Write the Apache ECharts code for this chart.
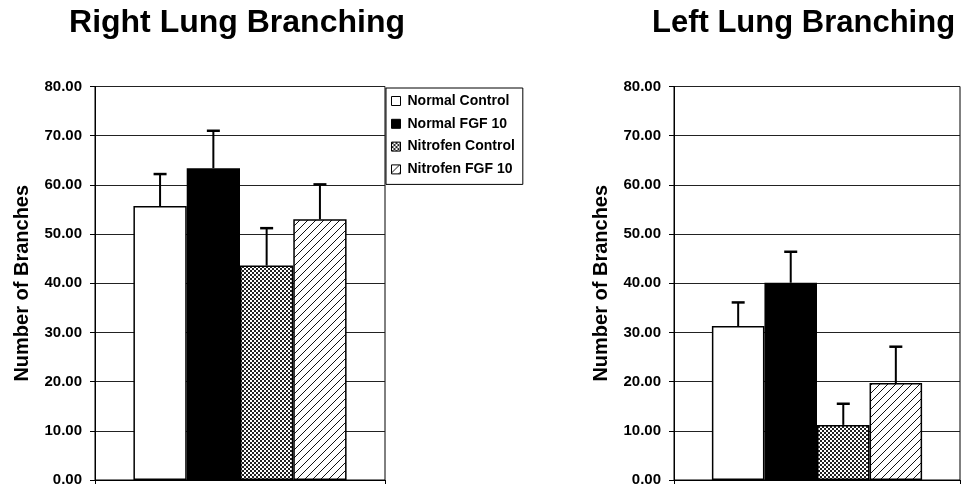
<!DOCTYPE html>
<html>
<head>
<meta charset="utf-8">
<script src="https://cdn.jsdelivr.net/npm/echarts@6/dist/echarts.min.js"></script>
<style>
  html, body { margin: 0; padding: 0; background: #fff; }
  #chart { width: 969px; height: 489px; }
</style>
</head>
<body>
<div id="chart"></div>
<script>
// Treatment groups (one bar each per panel)
const groups = ['Normal Control', 'Normal FGF 10', 'Nitrofen Control', 'Nitrofen FGF 10'];
const panelTitles = ['Right Lung Branching', 'Left Lung Branching'];
const yAxisName = 'Number of Branches';

// Mean branch counts and upper error (SD) per group
const rightLungMean = [55.7, 63.4, 43.6, 53.0];
const rightLungErr  = [6.5, 7.6, 7.6, 7.1];
const leftLungMean  = [31.3, 40.1, 11.2, 19.7];
const leftLungErr   = [4.8, 6.3, 4.3, 7.4];

const FONT = 'Liberation Sans, Arial, Helvetica, sans-serif';
const CATEGORY_GAP = 0.265;

// Diagonal "/" hatch fill
function makeHatch() {
  const s = 8;
  const c = document.createElement('canvas');
  c.width = s; c.height = s;
  const g = c.getContext('2d');
  g.fillStyle = '#fff';
  g.fillRect(0, 0, s, s);
  g.strokeStyle = '#111';
  g.lineWidth = 1;
  g.beginPath();
  g.moveTo(-1, s + 1); g.lineTo(s + 1, -1);
  g.moveTo(-1, 1); g.lineTo(1, -1);
  g.moveTo(s - 1, s + 1); g.lineTo(s + 1, s - 1);
  g.stroke();
  return c;
}

// Fine checkered fill
function makeChecker() {
  const c = document.createElement('canvas');
  c.width = 4; c.height = 4;
  const g = c.getContext('2d');
  g.fillStyle = '#fff';
  g.fillRect(0, 0, 4, 4);
  g.fillStyle = '#222';
  g.fillRect(0, 0, 2, 2);
  g.fillRect(2, 2, 2, 2);
  return c;
}

const fills = [
  '#ffffff',
  '#000000',
  { image: makeChecker(), repeat: 'repeat' },
  { image: makeHatch(), repeat: 'repeat' }
];

const panels = [
  { mean: rightLungMean, err: rightLungErr },
  { mean: leftLungMean, err: leftLungErr }
];

const grids = [
  { left: 95, right: 584, top: 86.5, bottom: 9, show: true, borderColor: '#000', borderWidth: 1 },
  { left: 674, right: 9, top: 86.5, bottom: 9, show: true, borderColor: '#000', borderWidth: 1 }
];

const xAxes = panels.map((p, i) => ({
  gridIndex: i,
  type: 'category',
  data: [''],
  axisLine: { lineStyle: { color: '#000', width: 1 } },
  axisTick: { show: true, length: 4, lineStyle: { color: '#000' } },
  axisLabel: { show: false },
  splitLine: { show: false }
}));

const yAxes = panels.map((p, i) => ({
  gridIndex: i,
  type: 'value',
  min: 0,
  max: 80,
  interval: 10,
  name: yAxisName,
  nameLocation: 'middle',
  nameGap: 63,
  nameTextStyle: { fontSize: 20, fontWeight: 'bold', color: '#000', fontFamily: FONT },
  axisLine: { show: true, lineStyle: { color: '#000', width: 1 } },
  axisTick: { show: true, length: 5, lineStyle: { color: '#000' } },
  axisLabel: {
    formatter: v => v.toFixed(2),
    fontSize: 15, fontWeight: 'bold', color: '#000', fontFamily: FONT, margin: 13
  },
  splitLine: { show: true, lineStyle: { color: '#222', width: 1 } }
}));

const series = [];
panels.forEach((p, pi) => {
  groups.forEach((name, gi) => {
    series.push({
      name: name,
      type: 'bar',
      xAxisIndex: pi,
      yAxisIndex: pi,
      data: [p.mean[gi]],
      barGap: '0%',
      barCategoryGap: (CATEGORY_GAP * 100) + '%',
      itemStyle: { color: fills[gi], borderColor: '#000', borderWidth: 1.5 },
      emphasis: { disabled: true }
    });
  });
  // Upper error bars with caps
  series.push({
    type: 'custom',
    xAxisIndex: pi,
    yAxisIndex: pi,
    z: 5,
    silent: true,
    data: p.mean.map((m, gi) => [0, m, m + p.err[gi], gi]),
    renderItem: (params, api) => {
      const bandW = api.size([1, 0])[0];
      const barW = bandW * (1 - CATEGORY_GAP) / groups.length;
      const base = api.coord([0, api.value(1)]);
      const top = api.coord([0, api.value(2)]);
      const x = base[0] + (api.value(3) - (groups.length - 1) / 2) * barW;
      return {
        type: 'group',
        children: [
          { type: 'line', shape: { x1: x, y1: base[1], x2: x, y2: top[1] },
            style: { stroke: '#000', lineWidth: 2 } },
          { type: 'line', shape: { x1: x - 6.5, y1: top[1], x2: x + 6.5, y2: top[1] },
            style: { stroke: '#000', lineWidth: 2.5 } }
        ]
      };
    }
  });
});

const chart = echarts.init(document.getElementById('chart'), null, { renderer: 'canvas' });
chart.setOption({
  backgroundColor: '#fff',
  animation: false,
  grid: grids,
  xAxis: xAxes,
  yAxis: yAxes,
  legend: {
    data: groups,
    orient: 'vertical',
    left: 386,
    top: 88,
    padding: [6, 8, 8, 5],
    itemGap: 8.8,
    itemWidth: 9,
    itemHeight: 9,
    icon: 'rect',
    borderColor: '#000',
    borderWidth: 1,
    backgroundColor: '#fff',
    selectedMode: false,
    itemStyle: { borderColor: '#000', borderWidth: 1 },
    textStyle: { fontSize: 14, fontWeight: 'bold', color: '#000', fontFamily: FONT, padding: [0, 0, 0, 2] }
  },
  graphic: [
    { type: 'text', x: 237, y: 23, silent: true,
      style: { text: panelTitles[0], align: 'center', verticalAlign: 'middle',
               fontSize: 32, fontWeight: 'bold', fontFamily: FONT, fill: '#000' } },
    { type: 'text', x: 652, y: 23, silent: true,
      style: { text: panelTitles[1], align: 'left', verticalAlign: 'middle',
               fontSize: 31, fontWeight: 'bold', fontFamily: FONT, fill: '#000' } }
  ],
  series: series
});
</script>
</body>
</html>
